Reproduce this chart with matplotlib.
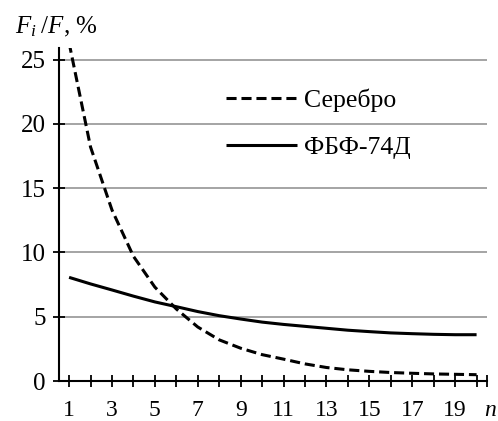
import matplotlib
matplotlib.use("Agg")
import matplotlib.pyplot as plt
import numpy as np

# values
n = np.arange(1, 21)
silver = [26.3, 18.2, 13.3, 9.7, 7.3, 5.6, 4.2, 3.2, 2.55, 2.05,
          1.7, 1.33, 1.05, 0.87, 0.75, 0.66, 0.6, 0.55, 0.52, 0.49]
fbf = [8.06, 7.55, 7.08, 6.6, 6.15, 5.78, 5.4, 5.08, 4.82, 4.58,
       4.4, 4.25, 4.1, 3.95, 3.84, 3.74, 3.68, 3.63, 3.6, 3.6]
labels = ["Серебро", "ФБФ-74Д"]
xtick_labels = [str(i) if i % 2 else "" for i in n]
yticks = [0, 5, 10, 15, 20, 25]

plt.rcParams["font.family"] = "serif"
plt.rcParams["font.serif"] = ["Liberation Serif", "DejaVu Serif"]
plt.rcParams["mathtext.fontset"] = "custom"
plt.rcParams["mathtext.rm"] = "Liberation Serif"
plt.rcParams["mathtext.it"] = "Liberation Serif:italic"

fig = plt.figure(figsize=(4.98, 4.21), dpi=100)
ax = fig.add_axes([59 / 498, 1 - 381 / 421, (487.3 - 59) / 498, (381 - 47.7) / 421])

ax.plot(n, silver, color="black", lw=2.2, dashes=(3.3, 1.6), dash_capstyle="butt", label=labels[0])
ax.plot(n, fbf, color="black", lw=2.2, solid_capstyle="butt", label=labels[1])

ax.set_xlim(0.53, 20.5)
ax.set_ylim(0, 25.92)
ax.set_xticks(list(n) + [20.5])
ax.set_xticklabels(xtick_labels + [""])
ax.set_yticks(yticks)
ax.grid(axis="y", color="#8c8c8c", lw=1.1)
ax.set_axisbelow(True)

for side in ["top", "right"]:
    ax.spines[side].set_visible(False)
for side in ["left", "bottom"]:
    ax.spines[side].set_linewidth(1.5)
    ax.spines[side].set_color("black")

ax.tick_params(axis="x", direction="inout", length=8, width=1.3, labelsize=17, pad=10)
ax.tick_params(axis="y", direction="inout", length=9, width=1.3, labelsize=18, pad=5)

fig.text(15 / 498, 1 - 33 / 421, r"$F_i\;/F$, %", fontsize=18, ha="left", va="baseline")
fig.text(497 / 498, 1 - 416 / 421, r"$n$", fontsize=17, ha="right", va="baseline")

ax.legend(loc="upper left", bbox_to_anchor=(226 / 498, 1 - 88 / 421), bbox_transform=fig.transFigure,
          frameon=False, fontsize=18.5, handlelength=2.75, handletextpad=0.3,
          labelspacing=0.95, borderpad=0, borderaxespad=0)

fig.savefig("out.png", dpi=100)
